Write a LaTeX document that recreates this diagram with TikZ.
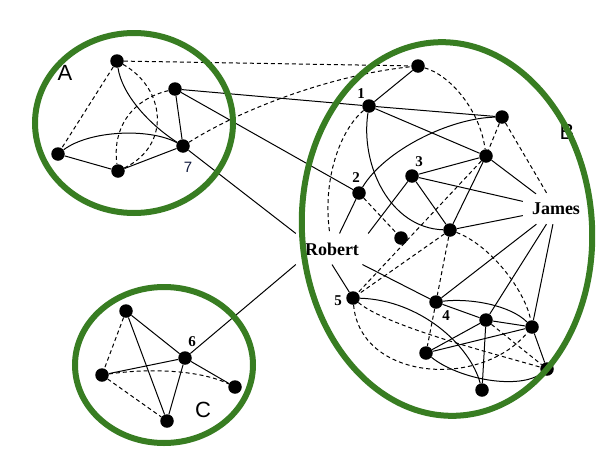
\documentclass[tikz,border=0pt]{standalone}
\usepackage{fontspec}
\setmainfont{Liberation Serif}
\newfontfamily\labelsans{Liberation Sans}
\definecolor{ringgreen}{RGB}{56,125,34}
\definecolor{navylbl}{RGB}{15,25,60}
\begin{document}
\begin{tikzpicture}[x=1pt,y=-1pt,
  vtx/.style={circle,fill=black,inner sep=0pt,minimum size=13.5pt},
  solidln/.style={line width=1pt},
  dashln/.style={line width=1pt,dash pattern=on 4pt off 3pt},
  person/.style={font=\fontsize{18}{18}\selectfont\bfseries,inner sep=9pt},
  numlbl/.style={font=\fontsize{15}{15}\selectfont\bfseries,inner sep=0pt},
  grplbl/.style={font=\labelsans\fontsize{22}{22}\selectfont,inner sep=0pt},
  ringst/.style={draw=ringgreen,line width=6pt}]
\useasboundingbox (0,0) rectangle (616,466);

% ---------- cluster A ----------
\node[vtx] (a1) at (117,61) {};
\node[vtx] (a2) at (175,89) {};
\node[vtx] (a3) at (58,154) {};
\node[vtx] (a4) at (118,171) {};
\node[vtx] (a7) at (183,146) {};
\node[grplbl] (lA) at (65,73) {A};
\node[font=\labelsans\fontsize{15}{15}\selectfont,text=navylbl,inner sep=0pt] (l7) at (188,167) {7};

% ---------- cluster C ----------
\node[vtx] (c1) at (126,311) {};
\node[vtx] (c6) at (185,358) {};
\node[vtx] (c3) at (102,375) {};
\node[vtx] (c4) at (235,387) {};
\node[vtx] (c5) at (167,421) {};
\node[grplbl] (lC) at (203,410) {C};
\node[numlbl] (l6) at (192,342) {6};

% ---------- cluster B ----------
\node[vtx] (btop) at (418,66) {};
\node[vtx] (n1) at (369,106) {};
\node[vtx] (br) at (502,117) {};
\node[vtx] (bq) at (486,156) {};
\node[vtx] (n3) at (412,176) {};
\node[vtx] (n2) at (359,193) {};
\node[vtx] (bm) at (450,230) {};
\node[vtx] (bs) at (401,238) {};
\node[vtx] (n5) at (353,298) {};
\node[vtx] (n4) at (436,302) {};
\node[vtx] (bc1) at (486,320) {};
\node[vtx] (bc2) at (532,327) {};
\node[vtx] (bl) at (426,353) {};
\node[vtx] (bbr) at (547,369) {};
\node[vtx] (bbot) at (482,390) {};
\node[person] (rob) at (332,249) {Robert};
\node[person] (jam) at (556,209) {James};
\node[grplbl] (lB) at (567,132) {B};
\node[numlbl] (l1) at (361,94) {1};
\node[numlbl] (l2) at (356,178) {2};
\node[numlbl] (l3) at (419,162) {3};
\node[numlbl] (l4) at (446,316) {4};
\node[numlbl] (l5) at (338,301) {5};

% ---------- edges A ----------
\draw[dashln] (a1) -- (a3);
\draw[solidln] (a1) .. controls (122,95) and (150,125) .. (a7);
\draw[dashln] (a1) .. controls (165,88) and (172,145) .. (a4);
\draw[dashln] (a2) .. controls (130,100) and (112,130) .. (a4);
\draw[solidln] (a2) -- (a7);
\draw[solidln] (a3) .. controls (90,130) and (150,128) .. (a7);
\draw[solidln] (a3) -- (a4);
\draw[solidln] (a4) -- (a7);
\draw[dashln] (a1) -- (btop);
\draw[dashln] (a7) .. controls (240,110) and (330,75) .. (btop);
\draw[solidln] (a2) -- (n1);
\draw[solidln] (a2) -- (n2);
\draw[solidln] (a7) -- (rob.north west);

% ---------- edges C ----------
\draw[dashln] (c1) -- (c3);
\draw[solidln] (c1) -- (c6);
\draw[solidln] (c1) -- (c5);
\draw[solidln] (c3) -- (c6);
\draw[dashln] (c3) .. controls (150,368) and (200,370) .. (c4);
\draw[dashln] (c3) -- (c5);
\draw[solidln] (c6) -- (c4);
\draw[solidln] (c6) -- (c5);
\draw[solidln] (c6) -- (rob.south west);

% ---------- edges B ----------
\draw[solidln] (btop) -- (n1);
\draw[dashln] (btop) .. controls (450,75) and (480,110) .. (bq);
\draw[solidln] (n1) -- (br);
\draw[solidln] (n1) -- (bq);
\draw[solidln] (n1) .. controls (360,165) and (390,228) .. (bm);
\draw[dashln] (n1) .. controls (340,130) and (322,180) .. (rob);
\draw[solidln] (br) .. controls (450,118) and (385,150) .. (n2);
\draw[dashln] (br) -- (bq);
\draw[dashln] (br) -- (jam);
\draw[solidln] (n3) -- (bq);
\draw[solidln] (n3) -- (jam);
\draw[solidln] (n3) -- (bm);
\draw[solidln] (n3) -- (rob.north east);
\draw[solidln] (bq) -- (jam);
\draw[solidln] (bq) -- (bm);
\draw[dashln] (bq) -- (n5);
\draw[dashln] (n2) -- (bs);
\draw[solidln] (n2) -- (rob);
\draw[solidln] (bm) -- (jam);
\draw[dashln] (bm) -- (n5);
\draw[dashln] (bm) -- (n4);
\draw[dashln] (bm) .. controls (490,245) and (525,290) .. (bc2);
\draw[solidln] (jam) -- (n4);
\draw[solidln] (jam) -- (bc1);
\draw[solidln] (jam) -- (bc2);
\draw[solidln] (rob) -- (n4);
\draw[solidln] (rob.south) -- (n5);
\draw[solidln] (n5) .. controls (420,300) and (470,345) .. (bbot);
\draw[dashln] (n5) .. controls (385,325) and (480,350) .. (bbr);
\draw[dashln] (n5) .. controls (360,380) and (480,390) .. (bc2);
\draw[solidln] (n4) -- (bc1);
\draw[solidln] (n4) .. controls (470,298) and (510,305) .. (bc2);
\draw[dashln] (n4) -- (bl);
\draw[solidln] (bc1) -- (bc2);
\draw[solidln] (bc1) -- (bl);
\draw[solidln] (bc1) -- (bbot);
\draw[dashln] (bc1) -- (bbr);
\draw[solidln] (bc2) -- (bl);
\draw[solidln] (bc2) -- (bbr);
\draw[solidln] (bl) .. controls (460,380) and (520,390) .. (bbr);

% ---------- group rings ----------
\draw[ringst] (134,123) ellipse [x radius=99pt, y radius=90pt];
\draw[ringst] (164,365) ellipse [x radius=89pt, y radius=78pt];
\draw[ringst, rotate around={4:(447,229)}] (447,229) ellipse [x radius=145pt, y radius=187pt];
\end{tikzpicture}
\end{document}
